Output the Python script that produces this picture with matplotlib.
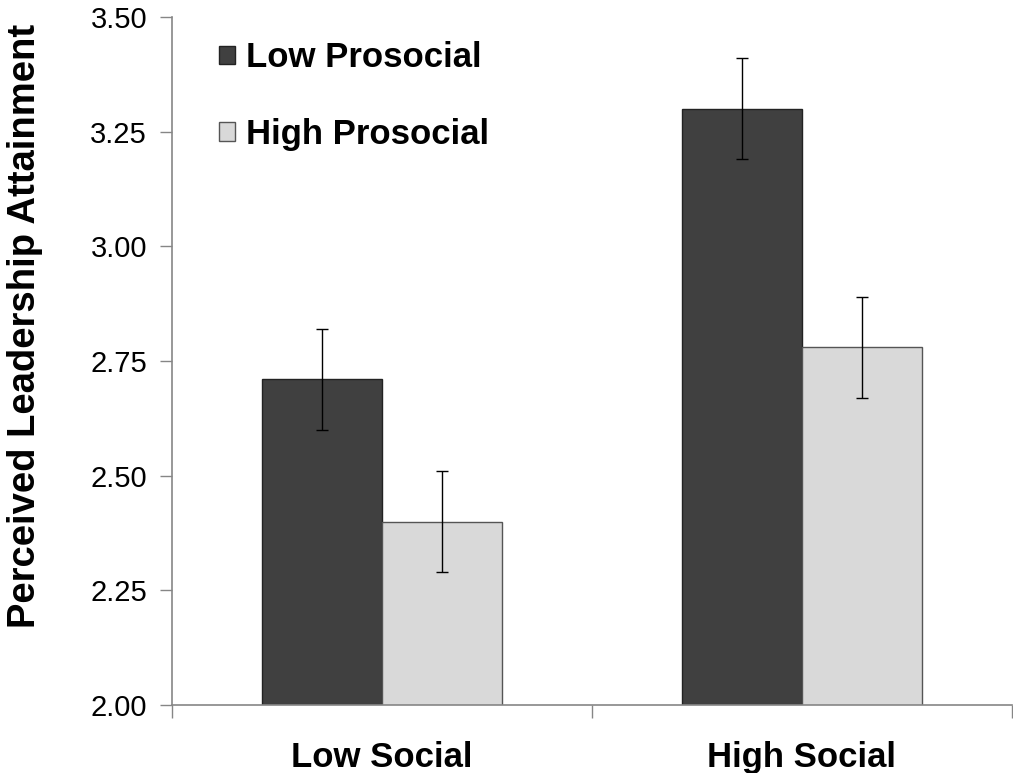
import matplotlib
matplotlib.use('Agg')
import matplotlib.pyplot as plt
from matplotlib.ticker import FixedLocator

plt.rcParams['font.family'] = ['Liberation Sans', 'DejaVu Sans']

# Данные
categories = ['Low Social', 'High Social']
series_names = ['Low Prosocial', 'High Prosocial']
low_prosocial = [2.71, 3.30]
high_prosocial = [2.40, 2.78]
low_err = [0.11, 0.11]
high_err = [0.11, 0.11]
y_ticks = [2.00, 2.25, 2.50, 2.75, 3.00, 3.25, 3.50]

colors = ['#404040', '#d9d9d9']
axis_color = '#868686'

fig = plt.figure(figsize=(10.13, 7.73), dpi=100)
ax = fig.add_axes([0.1698, 0.088, 0.829, 0.890])

x = range(len(categories))
w = 0.286
ax.bar([i - w / 2 for i in x], low_prosocial, width=w, color=colors[0],
       edgecolor='#222222', linewidth=1, label=series_names[0], zorder=2)
ax.bar([i + w / 2 for i in x], high_prosocial, width=w, color=colors[1],
       edgecolor='#555555', linewidth=1, label=series_names[1], zorder=2)
ax.errorbar([i - w / 2 for i in x], low_prosocial, yerr=low_err, fmt='none',
            ecolor='black', elinewidth=1, capsize=4, capthick=1, zorder=3)
ax.errorbar([i + w / 2 for i in x], high_prosocial, yerr=high_err, fmt='none',
            ecolor='black', elinewidth=1, capsize=4, capthick=1, zorder=3)

ax.set_ylim(2.0, 3.5)
ax.set_xlim(-0.5, 1.5)
ax.set_yticks(y_ticks)
ax.set_yticklabels([f'{v:.2f}' for v in y_ticks], fontsize=21)
ax.tick_params(axis='y', direction='out', length=9, width=1, color=axis_color, pad=9)

ax.set_xticks(list(x))
ax.set_xticklabels(categories, fontsize=25, fontweight='bold')
ax.tick_params(axis='x', which='major', length=0, pad=26)
ax.xaxis.set_minor_locator(FixedLocator([-0.5, 0.5, 1.5]))
ax.tick_params(axis='x', which='minor', direction='out', length=9, width=1, color=axis_color)

for s in ['top', 'right']:
    ax.spines[s].set_visible(False)
for s in ['left', 'bottom']:
    ax.spines[s].set_color(axis_color)
    ax.spines[s].set_linewidth(1.2)

ax.set_ylabel('Perceived Leadership Attainment', fontsize=27.5, fontweight='bold', labelpad=34)
ax.yaxis.label.set_y(0.551)

ax.legend(loc='upper left', bbox_to_anchor=(0.04, 0.985), frameon=False,
          prop={'size': 25, 'weight': 'bold'}, handlelength=0.45, handleheight=0.45,
          handletextpad=0.3, labelspacing=1.25, borderaxespad=0)

fig.savefig('out.png', dpi=100)
